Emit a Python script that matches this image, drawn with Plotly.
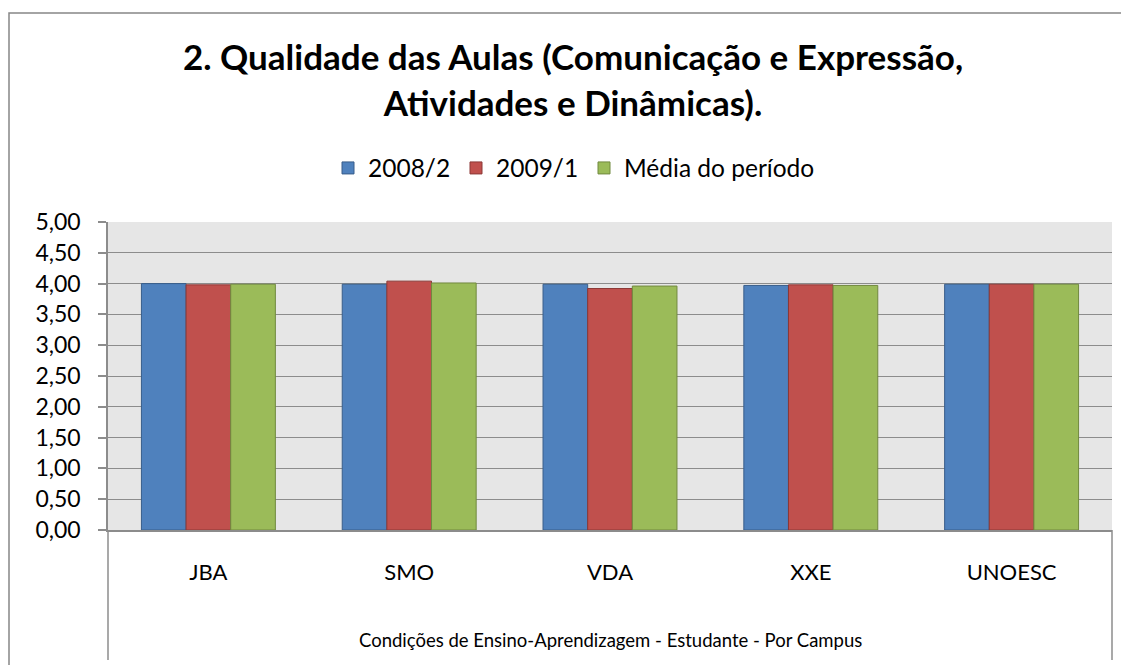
import plotly.graph_objects as go

categories = ["JBA", "SMO", "VDA", "XXE", "UNOESC"]
series_names = ["2008/2", "2009/1", "Média do período"]
values_2008_2 = [4.00, 3.99, 3.99, 3.97, 3.99]
values_2009_1 = [3.98, 4.04, 3.92, 3.98, 3.99]
values_media = [3.99, 4.01, 3.96, 3.97, 3.99]
y_ticks = [0, 0.5, 1, 1.5, 2, 2.5, 3, 3.5, 4, 4.5, 5]

fills = ["#4F81BD", "#C0504D", "#9BBB59"]
edges = ["#385D8A", "#8C3836", "#71893F"]
legend_ids = ["legend", "legend", "legend2"]

OFF = 8  # page body margin
W, H = 1129 - OFF, 665 - OFF
# plot area in screen pixels (reference)
SL, SR, ST, SB = 108, 1112, 222, 530
PL, PR, PT, PB = SL - OFF, SR - OFF, ST - OFF, SB - OFF
pw, ph = PR - PL, PB - PT


def px_x(sx):
    return (sx - OFF - PL) / pw


def px_y(sy):
    return (PB - (sy - OFF)) / ph


FONT = "Lato"
fig = go.Figure()
for name, vals, fc, ec, lg in zip(series_names, [values_2008_2, values_2009_1, values_media], fills, edges, legend_ids):
    fig.add_trace(go.Bar(
        x=categories, y=vals, name=name, legend=lg,
        marker=dict(color=fc, line=dict(color=ec, width=1)),
    ))

legend_font = dict(family=FONT, size=24.5, color="black")
fig.update_layout(
    width=W, height=H,
    margin=dict(l=PL, r=W - PR, t=PT, b=H - PB),
    paper_bgcolor="white",
    plot_bgcolor="#E6E6E6",
    separators=",.",
    barmode="group",
    bargap=0.333,
    bargroupgap=0,
    font=dict(family=FONT, size=23, color="black"),
    title=dict(
        text="<b>2. Qualidade das Aulas (Comunicação e Expressão,<br>Atividades e Dinâmicas).</b>",
        x=(573 - OFF) / W, xanchor="center", xref="container",
        y=1 - 62 / H, yanchor="top", yref="container",
        font=dict(family=FONT, size=35, color="black"),
    ),
    legend=dict(
        orientation="h",
        x=px_x(328), xanchor="left",
        y=px_y(168), yanchor="middle",
        font=legend_font,
        traceorder="normal",
        entrywidth=83,
        bgcolor="rgba(0,0,0,0)",
    ),
    legend2=dict(
        orientation="h",
        x=px_x(584), xanchor="left",
        y=px_y(168), yanchor="middle",
        font=legend_font,
        bgcolor="rgba(0,0,0,0)",
    ),
    showlegend=True,
)

fig.update_yaxes(
    range=[0, 5], tickvals=y_ticks, tickformat=".2f",
    showgrid=True, gridcolor="#8C8C8C", gridwidth=1.3,
    showline=True, linecolor="#8C8C8C", linewidth=1.5,
    ticks="outside", ticklen=8, tickcolor="#8C8C8C", tickwidth=1.5,
    ticklabelstandoff=13,
    zeroline=False, fixedrange=True,
    tickfont=dict(family=FONT, size=23, color="black"),
)
fig.update_xaxes(
    showgrid=False, showline=True, linecolor="#8C8C8C", linewidth=1.5,
    ticks="", ticklabelstandoff=22,
    tickfont=dict(family=FONT, size=22, color="black"),
)

# outer category label (second level of the category axis)
fig.add_annotation(
    text="Condições de Ensino-Aprendizagem - Estudante - Por Campus",
    xref="paper", yref="paper", x=0.5, y=px_y(640),
    xanchor="center", yanchor="middle", showarrow=False,
    font=dict(family=FONT, size=18.5, color="black"),
)

# multi-level axis separators
for sx in [SL, SR]:
    fig.add_shape(type="line", xref="paper", yref="paper",
                  x0=px_x(sx), x1=px_x(sx), y0=px_y(SB), y1=px_y(660),
                  line=dict(color="#8C8C8C", width=1.5))

# chart area border
fig.add_shape(type="rect", xref="paper", yref="paper",
              x0=px_x(OFF + 1), x1=px_x(1127), y0=px_y(690), y1=px_y(13),
              line=dict(color="#868686", width=1.5), fillcolor="rgba(0,0,0,0)", layer="above")

fig.write_html("out.html")
